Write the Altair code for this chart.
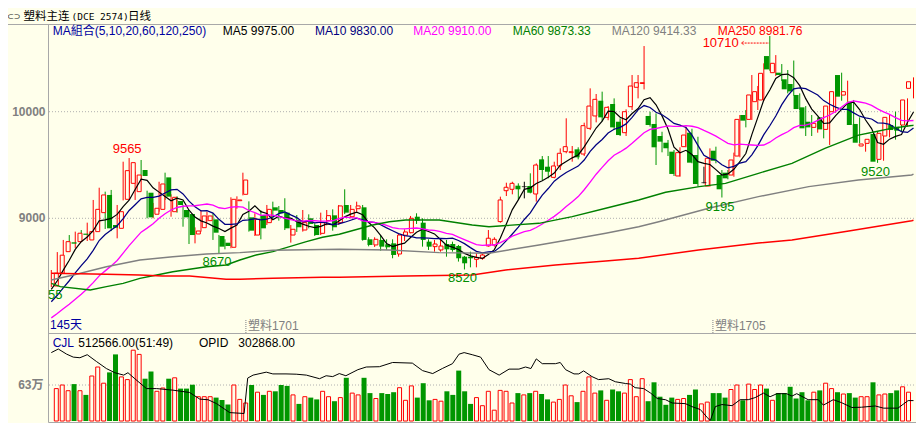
import altair as alt
import numpy as np
import pandas as pd

# ---------------- data ----------------
opens = [8365, 8485, 8687, 8775, 8781, 8856, 8797, 8875, 9053, 9219,
         8937, 8906, 9178, 9328, 9250, 9453, 9240, 9038, 9084, 9384,
         9062, 9162, 9078, 9040, 8853, 8912, 8978, 8990, 8834, 8771,
         8728, 9165, 9225, 9009, 8843, 9031, 8959, 9103, 9078, 9053,
         8843, 8984, 8890, 9000, 8937, 8859, 8978, 9028, 8959, 9125,
         9015, 9090, 9103, 8803, 8750, 8797, 8756, 8765, 8665, 8841,
         8865, 9015, 8959, 8781, 8734, 8703, 8759, 8759, 8740, 8640,
         8640, 8615, 8625, 8741, 8750, 8969, 9259, 9272, 9306, 9297,
         9303, 9228, 9553, 9484, 9384, 9491, 9625, 9616, 9647, 9603,
         9844, 9960, 10103, 9947, 10072, 9906, 9803, 10047, 10229, 10265,
         9960, 9885, 9772, 9709, 9625, 9397, 9672, 9803, 9594, 9334,
         9303, 9634, 9406, 9428, 9406, 9584, 9969, 9928, 10094, 10110,
         10522, 10366, 10366, 10304, 10260, 10157, 10041, 9906, 9853, 9947,
         9834, 10000, 10344, 10156, 10094, 9885, 9678, 9703, 9791, 9553,
         9772, 9875, 9859, 9875, 10219]
highs = [8515, 8683, 8797, 8843, 8875, 8890, 8959, 9172, 9287, 9250,
         9266, 9125, 9531, 9565, 9437, 9547, 9259, 9144, 9343, 9428,
         9225, 9206, 9125, 9062, 8915, 9075, 9062, 9047, 8844, 8803,
         9197, 9206, 9428, 9159, 9047, 9075, 9125, 9156, 9115, 9188,
         8937, 9031, 9078, 9037, 8953, 9053, 9078, 9084, 9125, 9272,
         9125, 9156, 9125, 8822, 8822, 8843, 8803, 8803, 8859, 8897,
         9022, 9047, 9000, 8803, 8797, 8797, 8797, 8781, 8750, 8647,
         8687, 8672, 8672, 8890, 8822, 9203, 9334, 9343, 9328, 9343,
         9422, 9515, 9584, 9584, 9531, 9656, 9938, 9678, 9666, 9897,
         10219, 10166, 10188, 10053, 10125, 9938, 10022, 10344, 10344, 10616,
         10000, 9984, 9812, 9735, 9641, 9666, 9860, 9840, 9765, 9484,
         9656, 9672, 9453, 9453, 9616, 9969, 10016, 10344, 10241, 10454,
         10710, 10531, 10447, 10391, 10480, 10172, 10053, 9969, 9938, 10000,
         10072, 10204, 10366, 10291, 10110, 9947, 9735, 9772, 9812, 9818,
         9969, 10000, 10000, 10125, 10322]
lows = [8355, 8470, 8640, 8703, 8722, 8797, 8787, 8860, 9047, 8900,
        8880, 8812, 9168, 9235, 9172, 9366, 9000, 9000, 9062, 9172,
        9015, 9053, 8921, 8759, 8765, 8875, 8969, 8797, 8670, 8709,
        8719, 9090, 9215, 8875, 8834, 8803, 8937, 8984, 8978, 8890,
        8772, 8872, 8875, 8906, 8834, 8843, 8934, 8884, 8937, 9040,
        9000, 9062, 8790, 8737, 8731, 8696, 8703, 8625, 8640, 8787,
        8859, 8947, 8734, 8703, 8687, 8687, 8640, 8687, 8594, 8520,
        8540, 8540, 8610, 8734, 8734, 8959, 9209, 9225, 9172, 9187,
        9234, 9156, 9359, 9375, 9375, 9453, 9610, 9531, 9553, 9584,
        9828, 9900, 9910, 9920, 9828, 9772, 9772, 10016, 10125, 10209,
        9860, 9500, 9619, 9584, 9397, 9390, 9666, 9516, 9300, 9328,
        9297, 9516, 9195, 9366, 9390, 9572, 9853, 9922, 10016, 10103,
        10384, 10334, 10288, 10172, 10150, 10016, 9772, 9772, 9803, 9750,
        9688, 9991, 10103, 10094, 9860, 9703, 9625, 9616, 9520, 9540,
        9759, 9738, 9812, 9860, 10125]
closes = [8485, 8654, 8781, 8762, 8860, 8845, 8875, 9084, 9219, 8906,
          8912, 9062, 9447, 9522, 9406, 9397, 9009, 9094, 9322, 9203,
          9197, 9125, 9009, 8843, 8881, 9022, 9022, 8865, 8734, 8740,
          9178, 9172, 9359, 8884, 8990, 8906, 9084, 9072, 9047, 8906,
          8897, 8916, 8959, 8947, 8843, 8959, 9025, 8916, 9116, 9053,
          9084, 9116, 8797, 8750, 8803, 8734, 8728, 8656, 8843, 8872,
          9000, 8978, 8797, 8734, 8759, 8740, 8709, 8703, 8625, 8578,
          8625, 8634, 8656, 8813, 8803, 9172, 9291, 9328, 9272, 9297,
          9240, 9500, 9453, 9437, 9491, 9610, 9672, 9625, 9572, 9869,
          10053, 10116, 9947, 10041, 9853, 9781, 10000, 10241, 10272, 10272,
          9875, 9666, 9719, 9657, 9416, 9616, 9781, 9522, 9322, 9334,
          9563, 9540, 9272, 9375, 9547, 9928, 9916, 10157, 10188, 10360,
          10397, 10454, 10344, 10210, 10190, 10025, 9844, 9853, 9891, 9834,
          10053, 10188, 10141, 10188, 9875, 9709, 9697, 9741, 9531, 9797,
          9947, 9828, 9822, 10110, 10281]
volumes = [567000, 630000, 530000, 645750, 530000, 456750, 787500, 945000, 661500, 850500,
           1165500, 771750, 724500, 1239000, 1165500, 740250, 866250, 519750, 577500, 740250,
           756000, 567000, 567000, 635000, 425250, 425250, 425250, 409500, 367500, 288750,
           630000, 378000, 315000, 630000, 504000, 456750, 519750, 519750, 630000, 614250,
           456750, 299250, 425250, 409500, 378000, 519750, 425250, 346500, 409500, 756000,
           488250, 456750, 756000, 488250, 393750, 488250, 472500, 504000, 582750, 362250,
           614250, 409500, 661500, 362250, 378000, 346500, 519750, 456750, 882000, 519750,
           299250, 409500, 267750, 519750, 189000, 535500, 519750, 315000, 488250, 456750,
           488250, 519750, 472500, 378000, 330750, 378000, 630000, 441000, 330750, 519750,
           771750, 488250, 535500, 362250, 551250, 519750, 488250, 724500, 425250, 740250,
           346500, 677250, 425250, 283500, 409500, 378000, 393750, 456750, 551250, 299250,
           330750, 488250, 488250, 409500, 551250, 630000, 362250, 645750, 551250, 630000,
           567000, 362250, 488250, 488250, 598500, 393750, 504000, 362250, 504000, 535500,
           661500, 567000, 504000, 472500, 488250, 409500, 425250, 425250, 677250, 456750,
           472500, 488250, 535500, 598500, 504000]
# closes before the first visible bar (inferred from where MA5/10/20 start)
prior_closes = [7850, 7880, 7900, 7920, 7900, 7880, 7920, 7950, 7970, 7975,
                8050, 8080, 8100, 8130, 8150, 8250, 8280, 8300, 8350]

ma60_idx = [0, 1.5, 6.5, 9.2, 12, 14.8, 17.6, 20.3, 23.1, 25.9, 29.2, 31.5, 34.2, 37, 39.8,
            42.6, 45.3, 48.1, 53.7, 56.45, 59.2, 64.8, 70.3, 73.1, 81.45, 87, 92.6, 98.1,
            102.6, 108.2, 112.6, 118.1, 123.7, 129.2, 134.8, 137.6, 140.3, 143.7, 144]
ma60_val = [8390, 8359, 8328, 8359, 8390, 8437, 8468, 8499, 8522, 8546, 8562, 8609, 8656, 8687, 8734,
            8781, 8822, 8850, 8937, 8968, 8984, 8984, 8937, 8921, 8953, 9015, 9094, 9172,
            9244, 9297, 9328, 9422, 9516, 9657, 9781, 9812, 9844, 9870, 9873]
ma120_idx = [0, 3.7, 9.2, 14.8, 20.3, 25.9, 31.5, 37, 48.1, 56.45, 64.8, 73.1, 81.45, 87,
             92.6, 98.1, 101.45, 109.8, 118.1, 126.5, 134.8, 143.7, 144]
ma120_val = [8421, 8468, 8546, 8609, 8640, 8665, 8678, 8700, 8709, 8703, 8678, 8672, 8750, 8803,
             8859, 8921, 8968, 9094, 9203, 9297, 9359, 9406, 9414]
ma250_idx = [0, 9.2, 14.8, 18.6, 23.1, 29.2, 31.5, 37, 45.3, 48.1, 59.2, 70.3, 75.9, 84.2,
             92.6, 98.1, 108.1, 118.1, 123.7, 133.2, 143.7, 144]
ma250_val = [8484, 8475, 8468, 8459, 8459, 8428, 8428, 8437, 8446, 8446, 8459, 8468, 8515, 8562,
             8600, 8625, 8703, 8768, 8797, 8881, 8978, 8982]

oi_idx = [0, 1.17, 2.56, 3.67, 4.78, 6.0, 7.56, 9.2, 10.6, 12.1, 12.8, 13.95, 15.9, 17.6,
          20.3, 23.1, 24.8, 26.2, 27.6, 29.8, 32.2, 32.8, 33.7, 35.9, 37.0, 39.2, 40.9, 42.6,
          44.8, 45.9, 47.0, 48.1, 49.2, 51.2, 52.6, 54.8, 57.0, 60.3, 62.0, 63.7, 65.3, 67.0,
          68.1, 68.95, 70.3, 71.7, 73.1, 74.8, 76.45, 78.1, 79.2, 80.1, 81.0, 82.0, 84.2, 85.0,
          85.9, 87.3, 88.1, 88.9, 90.3, 91.4, 93.1, 94.2, 95.9, 96.7, 97.5, 98.95, 100.1, 101.2,
          102.6, 103.7, 105.9, 107.0, 108.4, 109.5, 110.05, 110.9, 112.0, 113.7, 115.05, 116.4,
          117.55, 118.95, 120.05, 121.2, 122.8, 123.7, 124.5, 126.4, 128.1, 128.95, 130.6,
          132.0, 133.7, 135.3, 137.6, 139.0, 141.4, 143.1, 144]
oi_val = [1197000, 1260000, 1170000, 1118000, 1107000, 1160000, 1039500, 918000, 845000, 803000,
          845000, 740000, 567000, 567000, 540000, 499000, 383000, 372000, 304000, 147000,
          131000, 751000, 803000, 855000, 824000, 824000, 819000, 803000, 740000, 792000,
          777000, 830000, 792000, 898000, 945000, 950000, 1024000, 1013000, 882000, 830000,
          918000, 1003000, 1170000, 1197000, 1160000, 1118000, 898000, 803000, 908000, 908000,
          945000, 918000, 1087000, 1003000, 1003000, 1024000, 898000, 824000, 824000, 877000,
          777000, 724500, 740000, 687000, 656000, 646000, 583000, 567000, 488000, 394000,
          372000, 315000, 304000, 252000, 200000, 68000, 5000, 252000, 288000, 268000,
          373000, 373000, 409500, 488000, 425000, 478000, 478000, 436000, 478000, 373000,
          373000, 278000, 373000, 320000, 236000, 241000, 263000, 225000, 225000, 357000,
          357000]

label_idx = [13, 28, 69, 112, 138]
label_val = [9565, 8670, 8520, 9195, 9520]
label_kind = ["high", "low", "low", "low", "low"]
first_idx, first_val, first_text = 0, 8355, "55"
peak_idx, peak_val = 120, 10710

price_ticks = [9000, 10000]
vol_ticks = [630000]
vol_tick_text = ["63万"]

roll_idx = [32.5, 110.5]
roll_name = ["塑料1701", "塑料1705"]

legend_text = ["MA組合(5,10,20,60,120,250)", "MA5 9975.00", "MA10 9830.00", "MA20 9910.00",
               "MA60 9873.33", "MA120 9414.33", "MA250 8981.76"]
legend_color = ["#0000A0", "#000000", "#000080", "#FF00FF", "#008000", "#808080", "#FF0000"]
vol_text = ["CJL", "512566.00(51:49)", "OPID", "302868.00"]
vol_text_color = ["#0000A0", "#000000", "#000000", "#000000"]

# ---------------- styling ----------------
W, H = 908, 415
BG = "#FFFFEB"
RED = "#FF0000"
GREEN = "#009600"
LGREEN = "#008C00"
FONT = "Liberation Sans, Noto Sans CJK SC"

X_SC = alt.Scale(domain=[0, 144], range=[43.3, 905.5], nice=False, zero=False)
P_SC = alt.Scale(domain=[9000, 10000], range=[210.3, 103.7], nice=False, zero=False)
V_SC = alt.Scale(domain=[0, 630000], range=[413, 377], nice=False, zero=False)


def xq(f):
    return alt.X(f"{f}:Q", scale=X_SC, axis=None)


def py(f):
    return alt.Y(f"{f}:Q", scale=P_SC, axis=None)


def vy(f):
    return alt.Y(f"{f}:Q", scale=V_SC, axis=None)


n = len(closes)
full = pd.Series(prior_closes + closes, dtype=float)
df = pd.DataFrame({"i": range(n), "o": opens, "h": highs, "l": lows, "c": closes, "v": volumes})
for p in (5, 10, 20):
    df[f"ma{p}"] = full.rolling(p).mean().to_numpy()[-n:]
df["dir"] = np.select([df.c > df.o, df.c < df.o], ["up", "down"], "flat")
df["z"] = 0

rows = []
for p in (5, 10, 20):
    rows += [(i, df[f"ma{p}"][i], f"MA{p}") for i in range(n)]
for name, ix, vals in [("MA60", ma60_idx, ma60_val), ("MA120", ma120_idx, ma120_val),
                       ("MA250", ma250_idx, ma250_val)]:
    rows += [(a, b, name) for a, b in zip(ix, vals)]
ma_df = pd.DataFrame(rows, columns=["i", "val", "s"])
ma_names = ["MA250", "MA120", "MA60", "MA20", "MA10", "MA5"]
ma_colors = ["#FF0000", "#808080", "#008000", "#FF00FF", "#000080", "#000000"]
ma_widths = [1.5, 1.2, 1.2, 1, 1, 1]

layers = []

# frame lines
HDR = 16.5
frame = pd.DataFrame({"x1": [0, 40.5, 40.5, 40.5], "x2": [W, 40.5, W, W],
                      "y1": [HDR, HDR, 325.5, 414.5], "y2": [HDR, 414.5, 325.5, 414.5]})
layers.append(alt.Chart(frame).mark_rule(color="#A8A8A8", strokeWidth=1).encode(
    x=alt.X("x1:Q", scale=None), x2="x2:Q", y=alt.Y("y1:Q", scale=None), y2="y2:Q"))

# dotted grid
layers.append(alt.Chart(pd.DataFrame({"p": price_ticks})).mark_rule(
    color="#B0B0B0", strokeDash=[1, 2]).encode(y=py("p"), x=alt.value(41), x2=alt.value(W)))
layers.append(alt.Chart(pd.DataFrame({"v": vol_ticks})).mark_rule(
    color="#B0B0B0", strokeDash=[1, 2]).encode(y=vy("v"), x=alt.value(41), x2=alt.value(W)))

# axis labels
layers.append(alt.Chart(pd.DataFrame({"p": price_ticks})).mark_text(
    align="right", baseline="middle", font=FONT, fontSize=12, fontWeight="bold", color="#808080").encode(
    x=alt.value(37.5), y=py("p"), text=alt.Text("p:Q", format="d")))
layers.append(alt.Chart(pd.DataFrame({"v": vol_ticks, "t": vol_tick_text})).mark_text(
    align="right", baseline="middle", font=FONT, fontSize=12, fontWeight="bold", color="#808080").encode(
    x=alt.value(35.5), y=vy("v"), text="t:N"))

# candles
base = alt.Chart(df)
layers.append(base.mark_rule(strokeWidth=1).encode(
    x=xq("i"), y=py("l"), y2="h:Q",
    color=alt.Color("dir:N", scale=alt.Scale(domain=["up", "down", "flat"], range=[RED, GREEN, "#000000"]),
                    legend=None)))
layers.append(base.transform_filter("datum.dir == 'down'").mark_bar(size=5, color=GREEN).encode(
    x=xq("i"), y=py("o"), y2="c:Q"))
layers.append(base.transform_filter("datum.dir == 'up'").mark_bar(
    size=4, fill=BG, stroke=RED, strokeWidth=1).encode(x=xq("i"), y=py("o"), y2="c:Q"))
layers.append(base.transform_filter("datum.dir == 'flat'").mark_tick(
    orient="horizontal", size=5, thickness=1, color="#000000").encode(x=xq("i"), y=py("c")))

# moving averages
layers.append(alt.Chart(ma_df).mark_line().encode(
    x=xq("i"), y=py("val"),
    color=alt.Color("s:N", scale=alt.Scale(domain=ma_names, range=ma_colors), legend=None),
    strokeWidth=alt.StrokeWidth("s:N", scale=alt.Scale(domain=ma_names, range=ma_widths), legend=None),
    order=alt.Order("i:Q")))

# high / low labels
lab = pd.DataFrame({"i": label_idx, "v": label_val, "k": label_kind, "t": [str(v) for v in label_val]})
layers.append(alt.Chart(lab).transform_filter("datum.k == 'high'").mark_text(
    font=FONT, fontSize=13, color=RED, dx=-2, dy=-9, baseline="middle").encode(x=xq("i"), y=py("v"), text="t:N"))
layers.append(alt.Chart(lab).transform_filter("datum.k == 'low'").mark_text(
    font=FONT, fontSize=13, color=LGREEN, dx=-2, dy=9, baseline="middle").encode(x=xq("i"), y=py("v"), text="t:N"))
layers.append(alt.Chart(pd.DataFrame({"i": [first_idx], "v": [first_val], "t": [first_text]})).mark_text(
    font=FONT, fontSize=13, color=LGREEN, dx=4, dy=8, baseline="middle").encode(x=xq("i"), y=py("v"), text="t:N"))

peak = pd.DataFrame({"i": [peak_idx], "v": [peak_val]})
layers.append(alt.Chart(peak).mark_text(
    font=FONT, fontSize=13, color=RED, align="right", dx=-31, dy=7, baseline="middle").encode(
    x=xq("i"), y=py("v"), text=alt.Text("v:Q", format="d")))
pk = alt.Chart(peak).transform_calculate(a="datum.i - 4.7", b="datum.i - 0.1", yy="datum.v - 66")
layers.append(pk.mark_rule(color=RED, strokeWidth=1, strokeDash=[2, 1]).encode(
    x=xq("a"), x2="b:Q", y=py("yy")))
layers.append(pk.mark_point(shape="M1,-1L0,0L1,1", filled=False, stroke=RED, strokeWidth=1, size=18).encode(
    x=xq("a"), y=py("yy")))

# volume panel
layers.append(base.transform_filter("datum.dir == 'down'").mark_bar(size=5, color=GREEN).encode(
    x=xq("i"), y=vy("v"), y2="z:Q"))
layers.append(base.transform_filter("datum.dir != 'down'").mark_bar(
    size=4, fill=BG, stroke=RED, strokeWidth=1).encode(x=xq("i"), y=vy("v"), y2="z:Q"))
layers.append(alt.Chart(pd.DataFrame({"i": oi_idx, "v": oi_val})).mark_line(
    color="#000000", strokeWidth=1).encode(x=xq("i"), y=vy("v"), order=alt.Order("i:Q")))

# contract roll markers
roll = pd.DataFrame({"r": roll_idx, "t": roll_name})
layers.append(alt.Chart(roll).mark_rule(color="#808080", strokeDash=[1, 1]).encode(
    x=xq("r"), y=alt.value(312), y2=alt.value(325)))
layers.append(alt.Chart(roll).mark_text(
    align="left", baseline="middle", dx=2, font=FONT, fontSize=12, color="#808080").encode(
    x=xq("r"), y=alt.value(318), text="t:N"))


def static_text(texts, xs, ys, cols, **kw):
    d = pd.DataFrame({"t": texts, "px": xs, "py": ys, "col": cols})
    return alt.Chart(d).mark_text(align="left", baseline="middle", **kw).encode(
        x=alt.X("px:Q", scale=None), y=alt.Y("py:Q", scale=None), text="t:N",
        color=alt.Color("col:N", scale=None))


# title
layers.append(static_text(["⊂⊃"], [-1], [8.5], ["#202020"], font="DejaVu Sans", fontSize=8))
layers.append(static_text(["塑料主连", "日线"], [15.5, 120], [8.5, 8.5], ["#000000", "#000000"],
                          font="Noto Sans CJK SC", fontSize=11.5))
layers.append(static_text(["(DCE 2574)"], [63.5], [9], ["#000000"], font="DejaVu Sans Mono", fontSize=9.5))
# MA legend row
layers.append(static_text(legend_text, [44.7, 214.7, 307, 405.3, 504.7, 603.7, 709.7],
                          [22.5] * 7, legend_color, font=FONT, fontSize=12))
# bottom-left day count
layers.append(static_text(["145天"], [42], [317], ["#0000A0"], font=FONT, fontSize=12))
# volume row
layers.append(static_text(vol_text, [44.7, 70.3, 191, 230.3], [334.7] * 4, vol_text_color,
                          font=FONT, fontSize=12))

chart = alt.layer(*layers).properties(
    width=W, height=H, background=BG, padding=0,
    autosize=alt.AutoSizeParams(type="none")
).resolve_scale(
    x="independent", y="independent", color="independent", strokeWidth="independent"
).configure_view(strokeWidth=0)

chart.save("out.html", embed_options={"renderer": "svg", "actions": False})
